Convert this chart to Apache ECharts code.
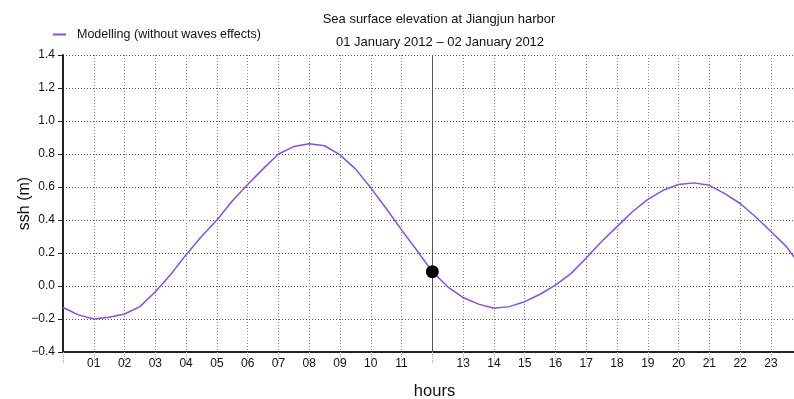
<!DOCTYPE html>
<html>
<head>
<meta charset="utf-8">
<script src="https://cdn.jsdelivr.net/npm/echarts@6/dist/echarts.min.js"></script>
<style>html,body{margin:0;padding:0;background:#fff;}#c{width:794px;height:399px;}</style>
</head>
<body>
<div id="c"></div>
<script>
const hours = [0,0.5,1,1.5,2,2.5,3,3.5,4,4.5,5,5.5,6,6.5,7,7.5,8,8.5,9,9.5,10,10.5,11,11.5,12,12.5,13,13.5,14,14.5,15,15.5,16,16.5,17,17.5,18,18.5,19,19.5,20,20.5,21,21.5,22,22.5,23,23.5,23.75];
const ssh = [-0.13,-0.175,-0.2,-0.19,-0.17,-0.125,-0.035,0.07,0.19,0.3,0.4,0.515,0.615,0.71,0.8,0.845,0.862,0.85,0.795,0.71,0.595,0.47,0.34,0.215,0.087,-0.005,-0.07,-0.11,-0.135,-0.125,-0.095,-0.05,0.005,0.075,0.17,0.27,0.36,0.45,0.525,0.58,0.615,0.625,0.61,0.56,0.5,0.42,0.33,0.24,0.175];
const currentHour = 12;
const currentSsh = 0.087;
const seriesName = 'Modelling (without waves effects)';
const titleText = 'Sea surface elevation at Jiangjun harbor';
const subtitleText = '01 January 2012 \u2013 02 January 2012';

const FONT = 'Liberation Sans';
const chart = echarts.init(document.getElementById('c'), null, {renderer: 'canvas'});
chart.setOption({
  animation: false,
  backgroundColor: '#fff',
  textStyle: {fontFamily: FONT},
  title: [
    {text: titleText, left: 434, top: 8, textAlign: 'center',
     textStyle: {fontFamily: FONT, fontSize: 13, fontWeight: 'normal', color: '#111'}},
    {text: subtitleText, left: 435, top: 31, textAlign: 'center',
     textStyle: {fontFamily: FONT, fontSize: 13, fontWeight: 'normal', color: '#111'}}
  ],
  legend: {
    left: 48, top: 23, itemWidth: 13, itemHeight: 2, itemGap: 10,
    icon: 'rect',
    data: [seriesName],
    textStyle: {fontFamily: FONT, fontSize: 12.5, color: '#111', padding: [0, 0, 0, 6]}
  },
  grid: {left: 63, right: 0, top: 55, bottom: 47, containLabel: false, outerBoundsMode: 'none'},
  xAxis: {
    type: 'value', min: 0, max: 23.75, interval: 1,
    name: 'hours', nameLocation: 'middle', nameGap: 31, nameMoveOverlap: false,
    nameTextStyle: {fontFamily: FONT, fontSize: 16.5, color: '#111', padding: [0, 0, 0, 12]},
    axisLine: {show: true, onZero: false, lineStyle: {color: '#222', width: 2}},
    axisTick: {show: true, length: 12, lineStyle: {color: '#aaa', type: [1, 1], width: 1}},
    axisLabel: {
      margin: 6, fontFamily: FONT, fontSize: 12, color: '#111',
      formatter: function (v) {
        if (v === 0 || v === 12 || Math.abs(v - Math.round(v)) > 1e-6) return '';
        return (v < 10 ? '0' : '') + v;
      }
    },
    splitLine: {show: true, lineStyle: {color: '#888', type: [1, 2], width: 1}}
  },
  yAxis: {
    type: 'value', min: -0.4, max: 1.4, interval: 0.2,
    name: 'ssh (m)', nameLocation: 'middle', nameGap: 30, nameRotate: 90, nameMoveOverlap: false,
    nameTextStyle: {fontFamily: FONT, fontSize: 16, color: '#111'},
    axisLine: {show: true, lineStyle: {color: '#222', width: 2}},
    axisTick: {show: true, length: 5, lineStyle: {color: '#222'}},
    axisLabel: {
      margin: 8, fontFamily: FONT, fontSize: 12, color: '#111',
      formatter: function (v) { return v.toFixed(1).replace('-', '\u2212'); }
    },
    splitLine: {show: true, lineStyle: {color: '#555', type: [1, 2], width: 1}}
  },
  series: [
    {
      name: seriesName, type: 'line', symbol: 'none',
      data: hours.map((h, i) => [h, ssh[i]]),
      lineStyle: {color: '#8050f0', width: 1.5},
      itemStyle: {color: '#8050f0'},
      markLine: {
        silent: true, symbol: 'none', label: {show: false},
        lineStyle: {color: '#555', type: 'solid', width: 1},
        data: [{xAxis: currentHour}]
      },
      z: 3
    },
    {
      name: 'now', type: 'scatter', symbol: 'circle', symbolSize: 13,
      data: [[currentHour, currentSsh]],
      itemStyle: {color: '#000', opacity: 1}, z: 5
    }
  ]
});
</script>
</body>
</html>
